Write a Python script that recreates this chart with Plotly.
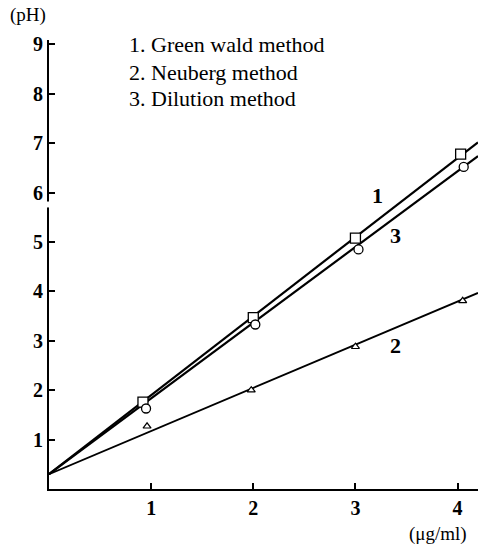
import plotly.graph_objects as go

# measured points
x_pts = [0.92, 2.0, 3.0, 4.03]
green_wald = [1.76, 3.47, 5.08, 6.78]
x_dil = [0.95, 2.02, 3.03, 4.06]
dilution = [1.63, 3.33, 4.85, 6.52]
x_neu = [0.96, 1.98, 3.0, 4.05]
neuberg = [1.27, 2.0, 2.88, 3.81]

# fitted lines
fit_x = [0.0, 4.2]
fit_green = [0.3, 7.02]
fit_dil = [0.3, 6.74]
fit_neu = [0.3, 3.97]

x_ticks = [1, 2, 3, 4]
y_ticks = [1, 2, 3, 4, 5, 6, 7, 8, 9]

FONT = "Liberation Serif"
fig = go.Figure()
for fy, w in [(fit_green, 2.2), (fit_dil, 2.2), (fit_neu, 1.8)]:
    fig.add_trace(go.Scatter(x=fit_x, y=fy, mode="lines",
                             line=dict(color="black", width=w), hoverinfo="skip"))
fig.add_trace(go.Scatter(x=x_pts, y=green_wald, mode="markers",
                         marker=dict(symbol="square", size=10, color="white",
                                     line=dict(color="black", width=1.3))))
fig.add_trace(go.Scatter(x=x_dil, y=dilution, mode="markers",
                         marker=dict(symbol="circle", size=9, color="white",
                                     line=dict(color="black", width=1.3))))
fig.add_trace(go.Scatter(x=x_neu, y=neuberg, mode="markers",
                         marker=dict(symbol="triangle-up", size=7, color="white",
                                     line=dict(color="black", width=1.2))))

anns = [
    ("1. Green wald method", 0.76, 8.99, "left", 22, "normal"),
    ("2. Neuberg method", 0.76, 8.44, "left", 22, "normal"),
    ("3. Dilution method", 0.76, 7.91, "left", 22, "normal"),
    ("1", 3.22, 5.95, "center", 22, "bold"),
    ("3", 3.39, 5.14, "center", 22, "bold"),
    ("2", 3.39, 2.91, "center", 22, "bold"),
]
for t, ax, ay, xa, sz, wt in anns:
    fig.add_annotation(x=ax, y=ay, text=t, showarrow=False, xanchor=xa,
                       font=dict(family=FONT, size=sz, color="black", weight=wt))
for t, px, py in [("(pH)", -0.049, 1.056), ("(\u03bcg/ml)", 0.907, -0.1)]:
    fig.add_annotation(x=px, y=py, xref="paper", yref="paper", text=t,
                       showarrow=False, xanchor="center", yanchor="middle",
                       font=dict(family=FONT, size=19, color="black"))

# break in the y axis
fig.add_shape(type="rect", xref="paper", x0=-0.02, x1=0.02, y0=5.7, y1=5.82,
              fillcolor="white", line=dict(width=0), layer="above")

tf = dict(family=FONT, size=20, color="black", weight="bold")
fig.update_layout(
    width=478, height=549, margin=dict(l=49, r=0, t=40, b=60),
    plot_bgcolor="white", paper_bgcolor="white", showlegend=False,
    font=dict(family=FONT, size=17, color="black"),
    xaxis=dict(range=[0, 4.2], tickvals=x_ticks, ticks="inside", ticklen=6,
               tickwidth=1.5, tickcolor="black", showline=True, linewidth=2,
               linecolor="black", showgrid=False, zeroline=False, tickfont=tf),
    yaxis=dict(range=[0, 9.09], tickvals=y_ticks, ticks="inside", ticklen=6,
               tickwidth=1.5, tickcolor="black", showline=True, linewidth=2,
               linecolor="black", showgrid=False, zeroline=False, tickfont=tf),
)
fig.write_html("out.html")
